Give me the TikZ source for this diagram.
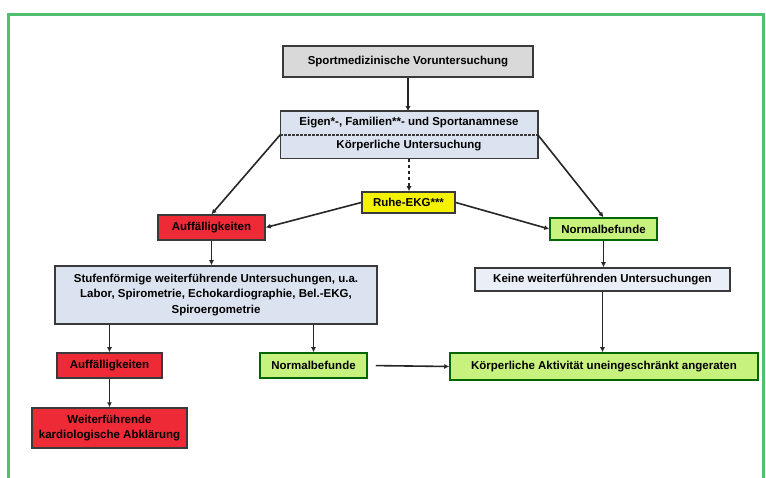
\documentclass[tikz,border=0pt]{standalone}
\usepackage{fontspec}
\setmainfont{Liberation Sans}
\usetikzlibrary{arrows.meta}
\definecolor{frame}{HTML}{4FC06E}
\definecolor{boxgray}{HTML}{D9D9D9}
\definecolor{boxblue}{HTML}{DCE3F0}
\definecolor{boxyellow}{HTML}{F5F200}
\definecolor{boxred}{HTML}{EE2A36}
\definecolor{boxgreen}{HTML}{C8F27E}
\definecolor{edge}{HTML}{3A3A3A}
\tikzset{
  box/.style={draw=edge, line width=1.5pt, inner sep=0pt, align=center, font=\bfseries\fontsize{11.5}{15.5}\selectfont},
  conn/.style={draw=black!85, line width=1.6pt, -{Latex[length=5pt,width=5pt]}},
}
\begin{document}
\begin{tikzpicture}[x=1pt,y=-1pt]
\useasboundingbox (0,0) rectangle (766,478);
\fill[white] (0,0) rectangle (766,478);
% frame
\draw[frame, line width=3pt] (8.5,480) -- (8.5,14.5) -- (763,14.5) -- (763,480);

\node[box, fill=boxgray, minimum width=250pt, minimum height=31pt] (top) at (408,61.5) {Sportmedizinische Voruntersuchung};
\node[box, draw=none, fill=boxblue, minimum width=256pt, minimum height=22pt] (eigen) at (409,123) {Eigen*-, Familien**- und Sportanamnese};
\node[box, draw=none, fill=boxblue, minimum width=256pt, minimum height=24pt] (koerp) at (409,146) {Körperliche Untersuchung};
\draw[edge, line width=1.5pt] (eigen.north west) rectangle (koerp.south east);
\draw[edge, line width=2pt, dash pattern=on 2.5pt off 1.5pt] (eigen.south west) -- (eigen.south east);

\node[box, fill=boxyellow, minimum width=93pt, minimum height=21pt] (ruhe) at (408.5,202.5) {Ruhe-EKG***};
\node[box, fill=boxred, minimum width=107pt, minimum height=25pt] (auff1) at (211.5,227.5) {Auffälligkeiten};
\node[box, draw=green!40!black, fill=boxgreen, minimum width=107pt, minimum height=22pt] (norm1) at (603.5,229) {Normalbefunde};
\node[box, fill=boxblue!60, minimum width=255pt, minimum height=23pt] (keine) at (602.5,279.5) {Keine weiterführenden Untersuchungen};
\node[box, fill=boxblue, minimum width=322pt, minimum height=58pt] (stufen) at (216,295) {Stufenförmige weiterführende Untersuchungen, u.a.\\Labor, Spirometrie, Echokardiographie, Bel.-EKG,\\Spiroergometrie};
\node[box, fill=boxred, minimum width=105pt, minimum height=25pt] (auff2) at (109.5,365.5) {Auffälligkeiten};
\node[box, fill=boxred, minimum width=155pt, minimum height=40pt] (weiter) at (109.5,428) {Weiterführende\\kardiologische Abklärung};
\node[box, draw=green!40!black, fill=boxgreen, minimum width=107pt, minimum height=25pt] (norm2) at (313.5,365.5) {Normalbefunde};
\node[box, draw=green!40!black, fill=boxgreen, minimum width=308pt, minimum height=27pt] (akt) at (604,366.5) {Körperliche Aktivität uneingeschränkt angeraten};

\draw[conn] (top.south) -- (top.south |- eigen.north);
\draw[conn, dashed] (koerp.south) -- (koerp.south |- ruhe.north);
\draw[conn] (eigen.south west) -- (auff1.north);
\draw[conn] (eigen.south east) -- (norm1.north);
\draw[conn] (ruhe.west) -- (auff1.east);
\draw[conn] (ruhe.east) -- (norm1.west);
\draw[conn] (auff1.south) -- (auff1.south |- stufen.north);
\draw[conn] (norm1.south) -- (norm1.south |- keine.north);
\draw[conn] (keine.south) -- (keine.south |- akt.north);
\draw[conn] (stufen.south -| auff2.north) -- (auff2.north);
\draw[conn] (stufen.south -| norm2.north) -- (norm2.north);
\draw[conn] (auff2.south) -- (weiter.north);
\draw[conn, shorten <=8pt] (norm2.east) -- (akt.west);
\end{tikzpicture}
\end{document}
